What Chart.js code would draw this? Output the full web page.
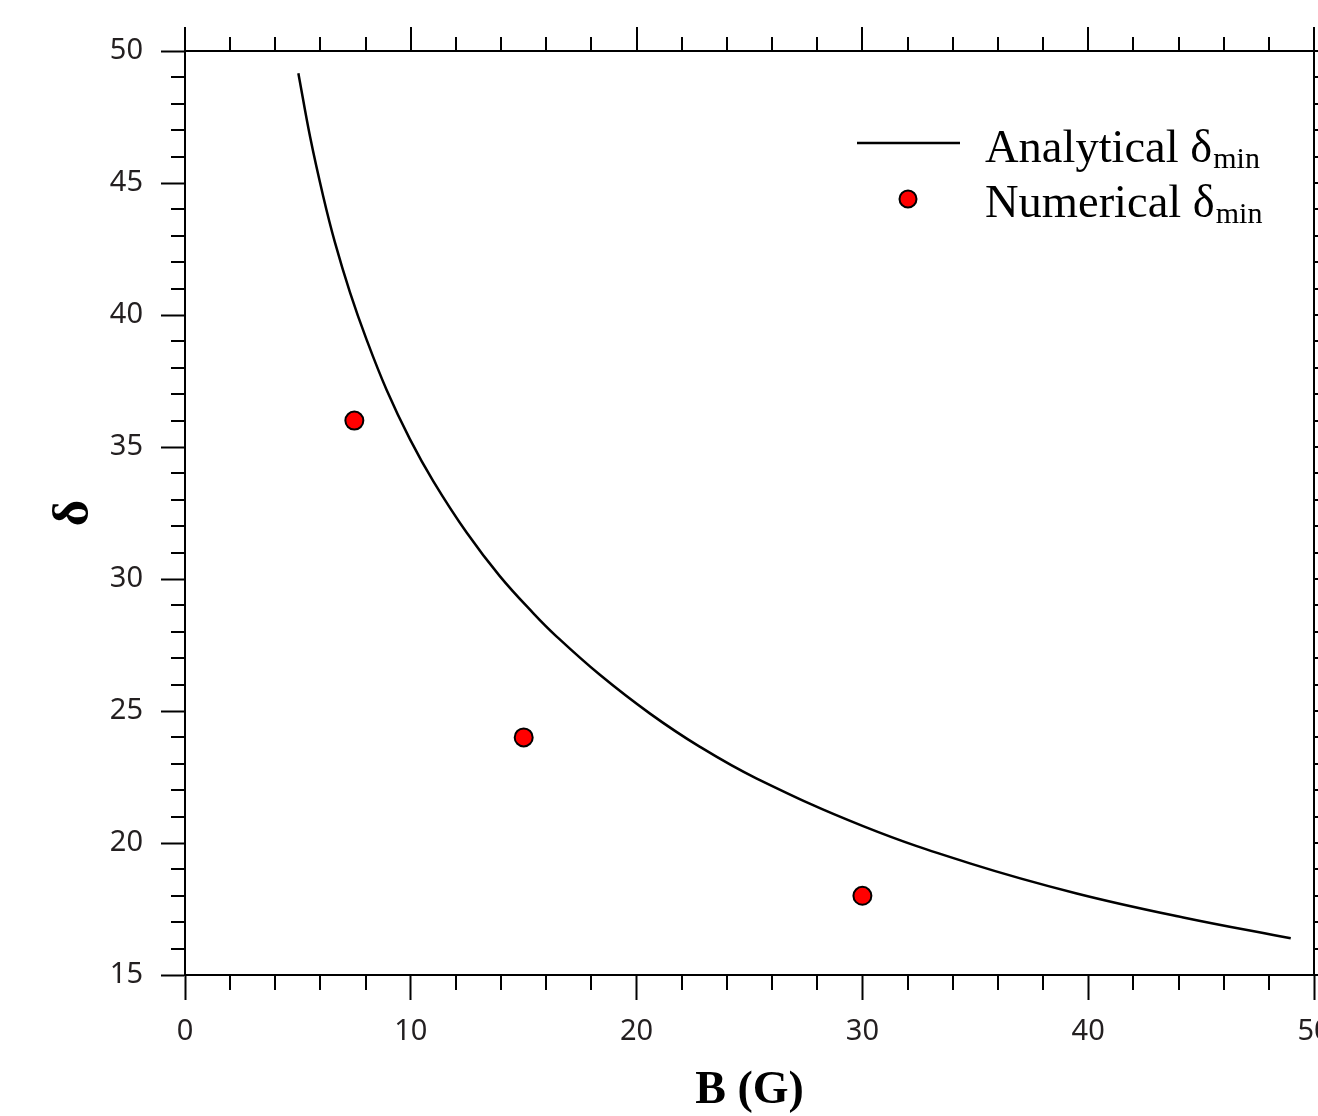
<!DOCTYPE html>
<html><head><meta charset="utf-8">
<script src="https://cdn.jsdelivr.net/npm/chart.js@4.4.1/dist/chart.umd.min.js"></script>
<style>html,body{margin:0;padding:0;background:#fff;overflow:hidden}</style>
</head><body>
<canvas id="c" width="1318" height="1116" style="display:block;width:1318px;height:1116px"></canvas>
<script>
// ---- data ----
const analyticB     = [5.02, 5.54, 6.12, 6.64, 7.31, 8.05, 8.93, 9.96, 11.0, 12.48, 13.95, 15.43, 16.46, 18.36, 20.58, 22.79, 25.30, 30.03, 34.76, 39.49, 44.21, 48.97];
const analyticDelta = [49.16, 46.75, 44.50, 42.75, 40.85, 39.05, 37.16, 35.30, 33.70, 31.75, 30.10, 28.70, 27.82, 26.38, 24.91, 23.65, 22.45, 20.64, 19.23, 18.09, 17.18, 16.39];
const numericB      = [7.5, 15, 30];
const numericDelta  = [36, 24, 18];
const xRange = [0, 50];
const yRange = [15, 50];
const xMajorStep = 10, xMinorStep = 2;
const yMajorStep = 5,  yMinorStep = 1;
const xTitle = 'B (G)';
const yTitle = 'δ';
const legendNames = ['Analytical δ', 'Numerical δ'];
const legendSub = 'min';

const toPts = (xs, ys) => xs.map((v, i) => ({x: v, y: ys[i]}));
const noPad = () => ({left: 0, top: 0, right: 0, bottom: 0});

const framePlugin = {
  id: 'frame',
  beforeLayout(chart) {
    Object.values(chart.scales).forEach(s => { s.getPadding = noPad; });
  },
  beforeDatasetsDraw(chart) {
    const {ctx, chartArea: a, scales: {x, y}} = chart;
    ctx.save();
    ctx.strokeStyle = '#000';
    ctx.lineWidth = 2;
    ctx.strokeRect(a.left, a.top, a.right - a.left, a.bottom - a.top);
    ctx.beginPath();
    for (let v = xRange[0]; v <= xRange[1] + 1e-9; v += xMinorStep) {
      const px = Math.round(x.getPixelForValue(v));
      const major = Math.abs(v % xMajorStep) < 1e-9;
      if (!major) { ctx.moveTo(px, a.bottom); ctx.lineTo(px, a.bottom + 15); }
      ctx.moveTo(px, a.top); ctx.lineTo(px, a.top - (major ? 24 : 14));
    }
    for (let v = yRange[0]; v <= yRange[1] + 1e-9; v += yMinorStep) {
      const py = Math.round(y.getPixelForValue(v));
      const major = Math.abs(v % yMajorStep) < 1e-9;
      if (!major) { ctx.moveTo(a.left, py); ctx.lineTo(a.left - 14, py); }
      ctx.moveTo(a.right, py); ctx.lineTo(a.right + (major ? 24 : 14), py);
    }
    ctx.stroke();
    ctx.restore();
  },
  afterDraw(chart) {
    const ctx = chart.ctx;
    ctx.save();
    ctx.strokeStyle = '#000';
    ctx.lineWidth = 2.5;
    ctx.beginPath();
    ctx.moveTo(857, 143); ctx.lineTo(960, 143);
    ctx.stroke();
    ctx.lineWidth = 2;
    ctx.beginPath();
    ctx.arc(908, 199, 8.5, 0, Math.PI * 2);
    ctx.fillStyle = '#ff0000';
    ctx.fill();
    ctx.stroke();
    ctx.fillStyle = '#000';
    ctx.textBaseline = 'alphabetic';
    ctx.textAlign = 'left';
    const rows = [162, 217];
    legendNames.forEach((t, i) => {
      ctx.font = '46.5px "Liberation Serif", "Times New Roman", serif';
      ctx.fillText(t, 985, rows[i]);
      const w = ctx.measureText(t).width;
      ctx.font = '30px "Liberation Serif", "Times New Roman", serif';
      ctx.fillText(legendSub, 985 + w + 1, rows[i] + 6);
    });
    ctx.restore();
  }
};

new Chart(document.getElementById('c'), {
  type: 'scatter',
  data: {
    datasets: [
      {
        label: 'Analytical',
        data: toPts(analyticB, analyticDelta),
        showLine: true,
        borderColor: '#000',
        borderWidth: 2.5,
        pointRadius: 0,
        tension: 0.4,
        fill: false
      },
      {
        label: 'Numerical',
        data: toPts(numericB, numericDelta),
        showLine: false,
        pointRadius: 9,
        pointBackgroundColor: '#ff0000',
        pointBorderColor: '#000',
        pointBorderWidth: 2
      }
    ]
  },
  options: {
    responsive: false,
    animation: false,
    events: [],
    layout: {autoPadding: false, padding: {left: 0, top: 51, right: 4, bottom: 0}},
    plugins: {legend: {display: false}, tooltip: {enabled: false}},
    scales: {
      x: {
        type: 'linear', min: xRange[0], max: xRange[1],
        afterFit(s) { s.height = 141; s.paddingLeft = 0; s.paddingRight = 0; },
        ticks: {stepSize: xMajorStep, padding: 14, color: '#231f20',
                font: {family: '"Noto Sans", "Open Sans", sans-serif', size: 29}},
        grid: {display: true, drawOnChartArea: false, drawTicks: true, tickLength: 25,
               tickWidth: 2, tickColor: '#000'},
        border: {display: true, color: '#000', width: 2},
        title: {display: true, text: xTitle, color: '#000',
                font: {family: '"Liberation Serif", "Times New Roman", serif', size: 46, weight: 'bold'},
                padding: {top: 0, bottom: -3}}
      },
      y: {
        type: 'linear', min: yRange[0], max: yRange[1],
        afterFit(s) { s.width = 185; s.paddingTop = 0; s.paddingBottom = 0; },
        ticks: {stepSize: yMajorStep, padding: 18, color: '#231f20',
                font: {family: '"Noto Sans", "Open Sans", sans-serif', size: 29}},
        grid: {display: true, drawOnChartArea: false, drawTicks: true, tickLength: 24,
               tickWidth: 2, tickColor: '#000'},
        border: {display: true, color: '#000', width: 2},
        title: {display: true, text: yTitle, color: '#000',
                font: {family: '"Liberation Serif", "Times New Roman", serif', size: 51, weight: 'bold'},
                padding: {top: 44, bottom: 0}}
      }
    }
  },
  plugins: [framePlugin]
});
</script>
</body></html>
